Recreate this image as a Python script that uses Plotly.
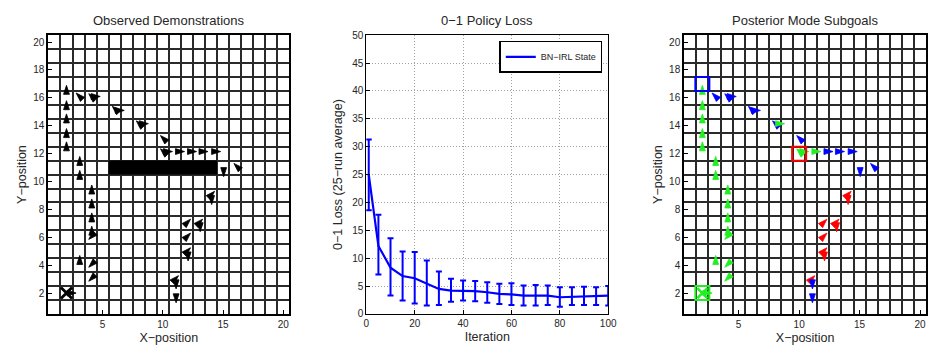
import plotly.graph_objects as go

# ---------------- data ----------------
# demonstration state-action markers (as read from the grid)
demo_x = [2.0, 2.0, 2.0, 2.0, 2.0, 3.1, 3.1, 4.1, 4.1, 4.1, 4.1, 3.85, 3.1, 3.85, 3.85, 2.8,
          2.8, 3.85, 4.8, 5.8, 6.8, 7.8, 8.8, 9.8, 9.8, 10.8, 11.8, 12.8, 13.75, 14.8, 15.9, 15.05,
          14.3, 14.05, 12.3, 13.3, 12.3, 13.1, 12.3, 12.1, 11.3, 11.1, 11.1]
demo_y = [16.9, 15.8, 14.85, 13.8, 12.85, 11.8, 10.8, 9.75, 8.75, 7.75, 6.8, 5.85, 4.7, 3.85, 2.85, 2.0,
          16.35, 16.3, 16.1, 15.4, 15.1, 14.35, 14.15, 13.3, 12.35, 12.15, 12.15, 12.15, 12.15, 12.15, 11.3, 10.35,
          9.3, 8.35, 7.3, 7.3, 6.3, 6.4, 5.25, 4.3, 3.25, 2.3, 1.3]
demo_dir = ["U", "U", "U", "U", "U", "U", "U", "U", "U", "U", "U", "DL", "U", "DL", "DL", "R",
            "UL", "UL", "R", "UL", "R", "UL", "R", "UL", "UL", "R", "R", "R", "R", "R", "UL", "D",
            "UR", "D", "UR", "UR", "UR", "D", "UR", "D", "UR", "D", "D"]
demo_group = ["g"] * 16 + ["b", "b", "b", "b", "b", "b", "g", "b", "g", "g", "g", "b", "b", "b", "b", "b",
                          "r", "r", "r", "r", "r", "r", "r", "r", "r", "b", "b"]

start_x = [2]
start_y = [2]
obstacle_x = [5.5, 14.5]
obstacle_y = [10.5, 11.5]

subgoal_x = [2, 10, 2]
subgoal_y = [17, 12, 2]
subgoal_group = ["b", "r", "g"]

# 0-1 policy loss
iters = [1, 5, 10, 15, 20, 25, 30, 35, 40, 45, 50, 55, 60, 65, 70, 75, 80, 85, 90, 95, 100]
loss_mean = [25.0, 12.2, 8.3, 6.8, 6.4, 5.5, 4.5, 4.2, 4.2, 4.1, 3.9, 3.6, 3.5, 3.3, 3.3, 3.3, 3.0, 3.1, 3.2, 3.2, 3.3]
loss_low = [18.6, 7.1, 3.3, 2.4, 1.9, 1.5, 1.6, 2.2, 2.4, 2.3, 2.0, 1.8, 1.6, 1.5, 1.5, 1.6, 1.3, 1.6, 1.6, 1.6, 1.5]
loss_high = [31.3, 17.8, 13.6, 11.2, 11.1, 9.6, 7.6, 6.3, 6.0, 5.9, 5.7, 5.4, 5.5, 5.1, 5.2, 5.1, 4.8, 4.8, 4.9, 4.8, 5.0]

grid_ticks_x = [5, 10, 15, 20]
grid_ticks_y = [2, 4, 6, 8, 10, 12, 14, 16, 18, 20]
loss_ticks_x = [0, 20, 40, 60, 80, 100]
loss_ticks_y = [0, 5, 10, 15, 20, 25, 30, 35, 40, 45, 50]

titles = ["Observed Demonstrations", "0\u22121 Policy Loss", "Posterior Mode Subgoals"]

# ---------------- style ----------------
W, H = 944, 353
FONT = "Liberation Sans, Arial, sans-serif"
TXT = "#262626"
angles = {"U": 0, "D": 180, "R": 90, "L": 270, "UL": -45, "UR": 45, "DL": 225, "DR": 135}
colors = {"g": "#22ee22", "b": "#0000ff", "r": "#ff0000"}

def px_dom(a, b, total):
    return [a / total, b / total]

xdoms = [px_dom(46, 290, W), px_dom(368, 613, W), px_dom(690, 935, W)]
ydom = [(H - 318) / H, (H - 31) / H]

fig = go.Figure()

# left panel
fig.add_trace(go.Scatter(
    x=demo_x, y=demo_y, mode="markers", xaxis="x", yaxis="y", showlegend=False,
    marker=dict(symbol="arrow", size=9.5, color="black",
                angle=[angles[d] for d in demo_dir], line=dict(width=0.8, color="black"))))
fig.add_trace(go.Scatter(
    x=start_x, y=start_y, mode="markers", xaxis="x", yaxis="y", showlegend=False,
    marker=dict(symbol="x-thin-open", size=11, color="black", line=dict(width=2.8, color="black"))))

# middle panel
fig.add_trace(go.Scatter(
    x=iters, y=loss_mean, mode="lines", xaxis="x2", yaxis="y2", name="BN\u2212IRL State",
    line=dict(color="#0000ff", width=2.2),
    error_y=dict(type="data", symmetric=False,
                 array=[h - m for h, m in zip(loss_high, loss_mean)],
                 arrayminus=[m - l for m, l in zip(loss_mean, loss_low)],
                 color="#0000ff", thickness=2, width=3)))

# right panel
gcols = [colors[g] for g in demo_group]
fig.add_trace(go.Scatter(
    x=demo_x, y=demo_y, mode="markers", xaxis="x3", yaxis="y3", showlegend=False,
    marker=dict(symbol="arrow", size=9.5, color=gcols,
                angle=[angles[d] for d in demo_dir], line=dict(width=0.8, color=gcols))))
fig.add_trace(go.Scatter(
    x=start_x, y=start_y, mode="markers", xaxis="x3", yaxis="y3", showlegend=False,
    marker=dict(symbol="x-thin-open", size=10, color=colors["g"], line=dict(width=2.5, color=colors["g"]))))
scols = [colors[g] for g in subgoal_group]
fig.add_trace(go.Scatter(
    x=subgoal_x, y=subgoal_y, mode="markers", xaxis="x3", yaxis="y3", showlegend=False,
    marker=dict(symbol="square-open", size=14, line=dict(width=2, color=scols), color=scols)))

half = [i + 0.5 for i in range(1, 20)]

def grid_axis(dom, ticks, anchor, title=None):
    d = dict(domain=dom, range=[0.5, 20.5], tickmode="array", tickvals=ticks,
             showgrid=False, zeroline=False, showline=True, mirror=True,
             linecolor="black", linewidth=2, ticks="inside", ticklen=4, tickcolor="black",
             tickfont=dict(size=10, color=TXT, family=FONT), anchor=anchor,
             minor=dict(tickmode="array", tickvals=half, showgrid=True,
                        gridcolor="#2a2a2a", gridwidth=1.6, ticks=""))
    if title:
        d["title"] = dict(text=title, font=dict(size=12.5, color=TXT, family=FONT), standoff=4)
    return d

layout = dict(
    width=W, height=H, margin=dict(l=0, r=0, t=0, b=0),
    paper_bgcolor="white", plot_bgcolor="white",
    font=dict(family=FONT, color=TXT),
    xaxis=grid_axis(xdoms[0], grid_ticks_x, "y", "X\u2212position"),
    yaxis=grid_axis(ydom, grid_ticks_y, "x", "Y\u2212position"),
    xaxis3=grid_axis(xdoms[2], grid_ticks_x, "y3", "X\u2212position"),
    yaxis3=grid_axis(ydom, grid_ticks_y, "x3", "Y\u2212position"),
    xaxis2=dict(domain=xdoms[1], range=[0, 100], tickmode="array", tickvals=loss_ticks_x,
                showgrid=True, gridcolor="#a0a0a0", griddash="1px,2px", gridwidth=1,
                zeroline=False, showline=True, mirror=True, linecolor="black", linewidth=1,
                ticks="inside", ticklen=4, tickcolor="black", anchor="y2",
                tickfont=dict(size=10, color=TXT, family=FONT),
                title=dict(text="Iteration", font=dict(size=12.5, color=TXT, family=FONT), standoff=4)),
    yaxis2=dict(domain=ydom, range=[0, 50], tickmode="array", tickvals=loss_ticks_y,
                showgrid=True, gridcolor="#a0a0a0", griddash="1px,2px", gridwidth=1,
                zeroline=False, showline=True, mirror=True, linecolor="black", linewidth=1,
                ticks="inside", ticklen=4, tickcolor="black", anchor="x2",
                tickfont=dict(size=10, color=TXT, family=FONT),
                title=dict(text="0\u22121 Loss (25\u2212run average)",
                           font=dict(size=12.5, color=TXT, family=FONT), standoff=6)),
    legend=dict(x=607 / W, y=1 - 37 / H, xanchor="right", yanchor="top",
                bgcolor="white", bordercolor="black", borderwidth=1.5,
                font=dict(size=9, color=TXT, family=FONT), itemwidth=30,
                tracegroupgap=0),
    shapes=[dict(type="rect", xref="x", yref="y", x0=obstacle_x[0], x1=obstacle_x[1],
                 y0=obstacle_y[0], y1=obstacle_y[1], fillcolor="black",
                 line=dict(width=0), layer="above")],
    annotations=[dict(text=t, x=(d[0] + d[1]) / 2, y=1 - 16 / H, xref="paper", yref="paper",
                      xanchor="center", yanchor="middle", showarrow=False,
                      font=dict(size=13, color=TXT, family=FONT))
                 for t, d in zip(titles, xdoms)],
)
fig.update_layout(**layout)
fig.write_html("out.html")
